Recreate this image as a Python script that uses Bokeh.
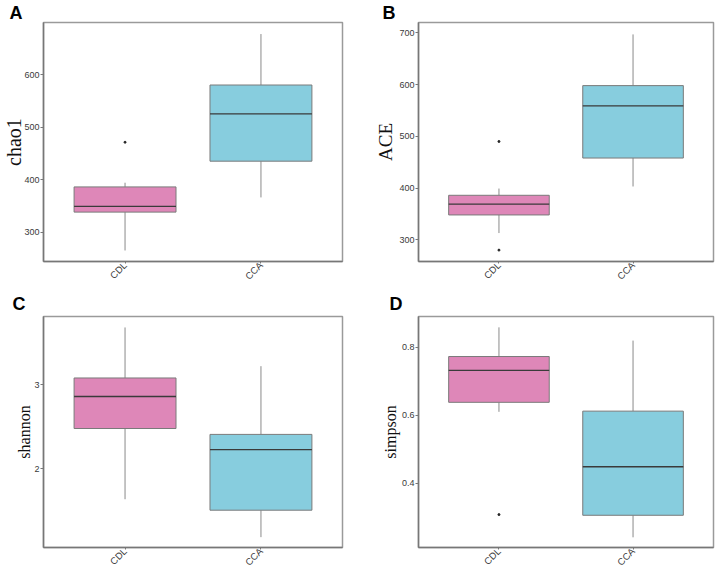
import math
from bokeh.plotting import figure
from bokeh.layouts import gridplot
from bokeh.models import FactorRange, Range1d, FixedTicker, ColumnDataSource, Title
from bokeh.embed import file_html
from bokeh.resources import INLINE

groups = ["CDL", "CCA"]
colors = ["#DE87B8", "#87CDDE"]

# chao1 (panel A)
chao1_low = [265, 366]
chao1_q1 = [338, 435]
chao1_med = [349, 525]
chao1_q3 = [386, 580]
chao1_high = [394, 677]
chao1_out_group = ["CDL"]
chao1_out_val = [471]
chao1_ticks = [300, 400, 500, 600]
chao1_ylim = [244, 699]

# ACE (panel B)
ace_low = [313, 403]
ace_q1 = [348, 458]
ace_med = [369, 559]
ace_q3 = [386, 598]
ace_high = [399, 697]
ace_out_group = ["CDL", "CDL"]
ace_out_val = [490, 280]
ace_ticks = [300, 400, 500, 600, 700]
ace_ylim = [258, 720]

# shannon (panel C)
shannon_low = [1.64, 1.19]
shannon_q1 = [2.48, 1.51]
shannon_med = [2.86, 2.23]
shannon_q3 = [3.08, 2.41]
shannon_high = [3.68, 3.22]
shannon_out_group = []
shannon_out_val = []
shannon_ticks = [2, 3]
shannon_ylim = [1.067, 3.81]

# simpson (panel D)
simpson_low = [0.61, 0.24]
simpson_q1 = [0.638, 0.305]
simpson_med = [0.732, 0.448]
simpson_q3 = [0.773, 0.612]
simpson_high = [0.859, 0.82]
simpson_out_group = ["CDL"]
simpson_out_val = [0.307]
simpson_ticks = [0.4, 0.6, 0.8]
simpson_ylim = [0.21, 0.891]


def make_panel(letter, ytitle, low, q1, med, q3, high, out_g, out_v, ticks, ylim,
               width, height, left, right, bottom, title_size, title_standoff,
               letter_offset, letter_standoff):
    t = Title(text=letter, align="left", offset=letter_offset, standoff=letter_standoff,
              text_font="Liberation Sans", text_font_style="bold",
              text_font_size="18px", text_color="black")
    p = figure(width=width, height=height, output_backend="svg", toolbar_location=None,
               x_range=FactorRange(*groups, range_padding=0.1),
               y_range=Range1d(ylim[0], ylim[1]), title=t,
               min_border_left=left, min_border_right=right,
               min_border_top=0, min_border_bottom=bottom)
    p.xgrid.grid_line_color = None
    p.ygrid.grid_line_color = None
    p.outline_line_color = "#9a9a9a"
    p.outline_line_width = 1.5
    p.background_fill_color = "white"
    p.border_fill_color = "white"

    src = ColumnDataSource(dict(g=groups, low=low, q1=q1, med=med, q3=q3, high=high, c=colors))
    p.segment(x0="g", y0="q3", x1="g", y1="high", source=src, line_color="#8a8a8a", line_width=1)
    p.segment(x0="g", y0="q1", x1="g", y1="low", source=src, line_color="#8a8a8a", line_width=1)
    p.vbar(x="g", top="q3", bottom="q1", width=0.75, source=src, fill_color="c",
           line_color="#7a7a7a", line_width=1)
    p.vbar(x="g", top="med", bottom="med", width=0.75, source=src, fill_alpha=0,
           line_color="#3a3a3a", line_width=1.3)
    if out_g:
        p.scatter(x=out_g, y=out_v, size=2, color="#222222")

    p.yaxis.ticker = FixedTicker(ticks=ticks)
    for ax in (p.xaxis[0], p.yaxis[0]):
        ax.axis_line_color = "#777777"
        ax.axis_line_width = 1.5
        ax.major_tick_line_color = "#777777"
        ax.major_tick_in = 0
        ax.minor_tick_line_color = None
        ax.major_label_text_font = "Liberation Sans"
        ax.major_label_text_color = "#3a3a3a"
    p.yaxis.major_tick_out = 3
    p.yaxis.major_label_standoff = 1
    p.xaxis.major_tick_out = 2
    p.xaxis.major_label_standoff = 0
    p.yaxis.major_label_text_font_size = "9px"
    p.xaxis.major_label_text_font_size = "9.5px"
    p.xaxis.major_label_orientation = math.pi / 4

    p.yaxis.axis_label = ytitle
    p.yaxis.axis_label_text_font = "Liberation Serif"
    p.yaxis.axis_label_text_font_style = "normal"
    p.yaxis.axis_label_text_font_size = title_size
    p.yaxis.axis_label_text_color = "#111111"
    p.yaxis.axis_label_standoff = title_standoff
    return p


pA = make_panel("A", "chao1", chao1_low, chao1_q1, chao1_med, chao1_q3, chao1_high,
                chao1_out_group, chao1_out_val, chao1_ticks, chao1_ylim,
                372, 288, 5, 30, 20, "20px", -4, -34, 0)
pB = make_panel("B", "ACE", ace_low, ace_q1, ace_med, ace_q3, ace_high,
                ace_out_group, ace_out_val, ace_ticks, ace_ylim,
                345, 288, 42, 4, 20, "19px", 0, -36, 0)
pC = make_panel("C", "shannon", shannon_low, shannon_q1, shannon_med, shannon_q3, shannon_high,
                shannon_out_group, shannon_out_val, shannon_ticks, shannon_ylim,
                372, 286, 5, 30, 20, "16px", -2, -31, 6)
pD = make_panel("D", "simpson", simpson_low, simpson_q1, simpson_med, simpson_q3, simpson_high,
                simpson_out_group, simpson_out_val, simpson_ticks, simpson_ylim,
                345, 286, 44, 4, 20, "16px", 0, -29, 6)

grid = gridplot([[pA, pB], [pC, pD]], toolbar_location=None)
open("out.html", "w").write(file_html(grid, INLINE))
